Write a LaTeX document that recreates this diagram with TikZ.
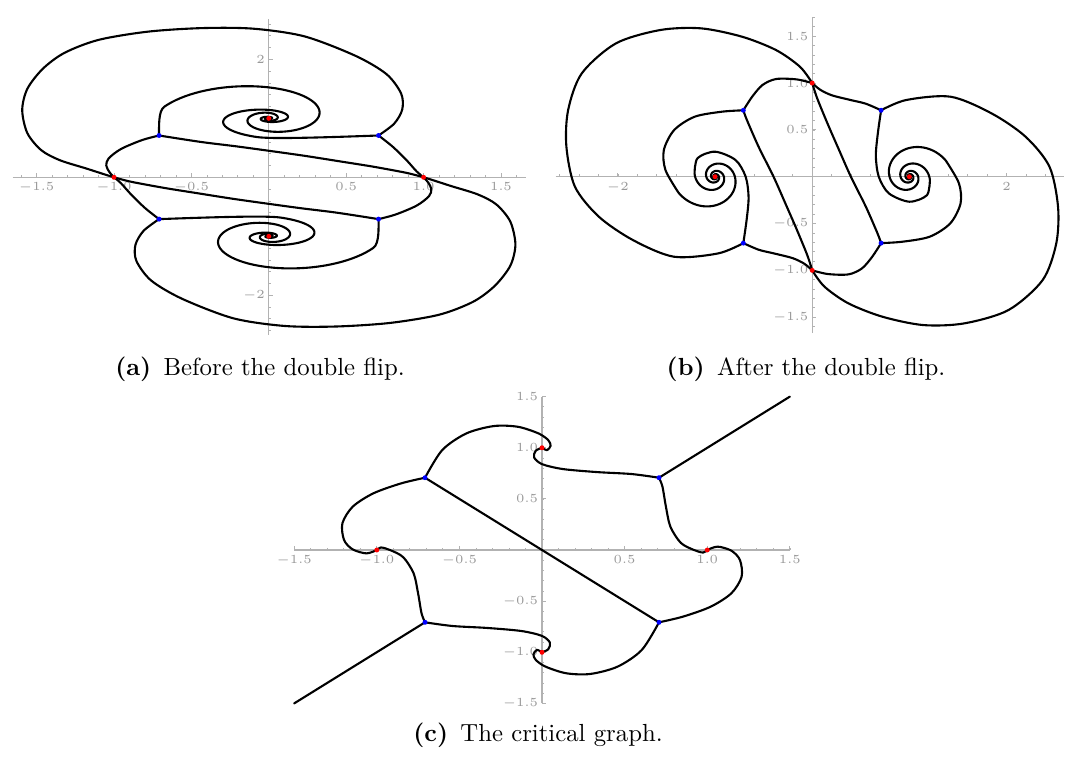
\documentclass[tikz,border=0pt]{standalone}
\usepackage{tikz}
\definecolor{axisgrey}{gray}{0.7}
\definecolor{labelgrey}{gray}{0.6}
\definecolor{polered}{rgb}{1,0,0}
\definecolor{zeroblue}{rgb}{0,0,1}
\tikzset{
  traj/.style={line width=0.85pt, line cap=round, line join=round},
  axisline/.style={draw=axisgrey, line width=0.45pt},
  minortick/.style={draw=axisgrey, line width=0.3pt},
  majortick/.style={draw=axisgrey, line width=0.4pt},
  ticklabel/.style={font=\fontsize{5}{5.5}\selectfont, text=labelgrey, inner sep=0.8pt},
  subcap/.style={anchor=base, font=\normalsize},
}

\begin{document}
\begin{tikzpicture}[x=0.0142cm, y=-0.0142cm]
\useasboundingbox (0,0) rectangle (1065,764);

% (a) before the double flip
\begin{scope}[shift={(268.8,177.3)}, x=2.1989cm, y=0.8378cm]
  \draw[axisline] (-1.655,0) -- (1.66,0);
  \draw[axisline] (0,-2.67) -- (0,2.68);
  \foreach \t in {-16,...,16} \draw[minortick] (\t/10,0) -- ++(0,1pt);
  \foreach \t in {-1.5,-1,-0.5,0.5,1,1.5} \draw[majortick] (\t,0) -- ++(0,1.7pt);
  \foreach \t in {-13,...,13} \draw[minortick] (0,\t/5) -- ++(1pt,0);
  \foreach \t in {-2,-1,1,2} \draw[majortick] (0,\t) -- ++(1.7pt,0);
  \foreach \t/\l in {-1.5/$-$1.5,-1/$-$1.0,-0.5/$-$0.5,0.5/0.5,1/1.0,1.5/1.5}
    \node[ticklabel, below=1.2pt] at (\t,0) {\l};
  \node[ticklabel, left=0.6pt] at (0,2) {2};
  \node[ticklabel, left=0.6pt] at (0,-2) {$-$2};
  \coordinate (a-n) at (0,1);   \coordinate (a-s) at (0,-1);
  \coordinate (a-w) at (-1,0);  \coordinate (a-e) at (1,0);
  \coordinate (a-nw) at (-0.709,0.709);  \coordinate (a-ne) at (0.709,0.709);
  \coordinate (a-sw) at (-0.709,-0.709); \coordinate (a-se) at (0.709,-0.709);
  \foreach \rot/\pn/\pw/\pe/\pnw/\pne in {0/n/w/e/nw/ne,180/s/e/w/se/sw}{
    \begin{scope}[rotate=\rot]
      \draw[traj] plot[smooth] coordinates {(a-\pw) (-1.05,0.04) (-1.18,0.15) (-1.35,0.29) (-1.47,0.46) (-1.56,0.75) (-1.593,1.14) (-1.56,1.5) (-1.46,1.84) (-1.32,2.11) (-1.1,2.33) (-0.78,2.47) (-0.43,2.53) (-0.1,2.52) (0.23,2.39) (0.56,2.06) (0.76,1.75) (0.855,1.42) (0.862,1.15) (0.81,0.91) (a-\pne)};
      \draw[traj] plot[smooth] coordinates {(a-\pnw) (-0.82,0.63) (-0.955,0.48) (-1.035,0.32) (-1.05,0.2) (-1.03,0.09) (a-\pw)};
      \draw[traj] plot[smooth] coordinates {(a-\pnw) (-0.44,0.6) (-0.21,0.525) (0,0.45) (0.23,0.365) (0.46,0.27) (0.675,0.18) (0.89,0.075) (a-\pe)};
      \draw[traj] plot[smooth] coordinates {(a-\pne) (0.80,0.52) (0.89,0.29) (0.955,0.1) (a-\pe)};
      % two arms winding into the pole
      \draw[traj] (a-\pnw) .. controls (-0.709,0.86) and (-0.714,1.125) .. (-0.676,1.195)
        -- plot[domain=165:-900, samples=300] ({0.316*exp(0.004817*\x)*cos(\x)}, {1+0.34*exp(0.004817*\x)*sin(\x)});
      \draw[traj] (a-\pne) .. controls (0.4,0.68) and (0.024,0.646) .. (-0.0725,0.6815)
        -- plot[domain=80:-900, samples=300] ({-0.284*exp(0.004817*\x)*cos(\x)}, {1-0.22*exp(0.004817*\x)*sin(\x)});
    \end{scope}
  }
  \foreach \p in {n,s,w,e} \fill[polered] (a-\p) circle (1pt);
  \foreach \p in {nw,ne,sw,se} \fill[zeroblue] (a-\p) circle (1pt);
\end{scope}

% (b) after the double flip
\begin{scope}[shift={(812.2,176.7)}, x=1.3802cm, y=1.3305cm]
  \draw[axisline] (-2.64,0) -- (2.59,0);
  \draw[axisline] (0,-1.67) -- (0,1.71);
  \foreach \t in {-13,...,12} \draw[minortick] (\t/5,0) -- ++(0,1pt);
  \foreach \t in {-2,-1,1,2} \draw[majortick] (\t,0) -- ++(0,1.7pt);
  \foreach \t in {-16,...,17} \draw[minortick] (0,\t/10) -- ++(1pt,0);
  \foreach \t in {-1.5,-1,-0.5,0.5,1,1.5} \draw[majortick] (0,\t) -- ++(1.7pt,0);
  \node[ticklabel, below=1.2pt] at (-2,0) {$-$2};
  \node[ticklabel, below=1.2pt] at (2,0) {2};
  \foreach \t/\l in {-1.5/$-$1.5,-1/$-$1.0,-0.5/$-$0.5,0.5/0.5,1/1.0,1.5/1.5}
    \node[ticklabel, left=0.6pt] at (0,\t) {\l};
  \coordinate (b-n) at (0,1);   \coordinate (b-s) at (0,-1);
  \coordinate (b-w) at (-1,0);  \coordinate (b-e) at (1,0);
  \coordinate (b-nw) at (-0.709,0.709);  \coordinate (b-ne) at (0.709,0.709);
  \coordinate (b-sw) at (-0.709,-0.709); \coordinate (b-se) at (0.709,-0.709);
  \foreach \rot/\pn/\ps/\pw/\pnw/\psw in {0/n/s/w/nw/sw,180/s/n/e/se/ne}{
    \begin{scope}[rotate=\rot]
      \draw[traj] plot[smooth] coordinates {(b-\pn) (-0.126,1.174) (-0.372,1.352) (-0.723,1.495) (-1.144,1.584) (-1.565,1.566) (-2.021,1.423) (-2.372,1.103) (-2.512,0.712) (-2.53,0.32) (-2.442,-0.107) (-2.196,-0.427) (-1.846,-0.676) (-1.425,-0.854) (-0.968,-0.819) (b-\psw)};
      \draw[traj] plot[smooth] coordinates {(b-\pn) (-0.161,1.039) (-0.372,1.043) (-0.512,0.979) (-0.618,0.854) (b-\pnw)};
      \draw[traj] plot[smooth] coordinates {(b-\pnw) (-0.672,0.605) (-0.552,0.32) (-0.398,0) (-0.27,-0.3) (-0.157,-0.569) (-0.05,-0.84) (b-\ps)};
      \draw[traj] plot[smooth] coordinates {(b-\psw) (-0.55,-0.78) (-0.398,-0.818) (-0.2,-0.87) (-0.08,-0.93) (b-\ps)};
      % two arms winding into the pole
      \draw[traj] plot[smooth] coordinates {(b-\pnw) (-0.93,0.694) (-1.211,0.64) (-1.421,0.498) (-1.527,0.285) (-1.51,0.07) (-1.3777,-0.1681)}
        -- plot[domain=204:1150, samples=300] ({-1+0.767*exp(-0.004538*(\x-67.8))*cos(\x)}, {0.767*exp(-0.004538*(\x-67.8))*sin(\x)});
      \draw[traj] plot[smooth] coordinates {(b-\psw) (-0.675,-0.46) (-0.655,-0.22) (-0.685,0) (-0.789,0.178) (-1,0.267) (-1.18,0.198) (-1.2111,0.035)}
        -- plot[domain=170.6:1100, samples=300] ({-1+0.214*exp(-0.004538*(\x-170.6))*cos(\x)}, {0.214*exp(-0.004538*(\x-170.6))*sin(\x)});
    \end{scope}
  }
  \foreach \p in {n,s,w,e} \fill[polered] (b-\p) circle (1pt);
  \foreach \p in {nw,ne,sw,se} \fill[zeroblue] (b-\p) circle (1pt);
\end{scope}

% (c) the critical graph
\begin{scope}[shift={(542,550)}, x=2.3473cm, y=1.4527cm]
  \draw[axisline] (-1.5,0) -- (1.5,0);
  \draw[axisline] (0,-1.5) -- (0,1.5);
  \foreach \t in {-15,...,15} {
    \draw[minortick] (\t/10,0) -- ++(0,1pt);
    \draw[minortick] (0,\t/10) -- ++(1pt,0);
  }
  \foreach \t in {-1.5,-1,-0.5,0.5,1,1.5} {
    \draw[majortick] (\t,0) -- ++(0,1.7pt);
    \draw[majortick] (0,\t) -- ++(1.7pt,0);
  }
  \foreach \t/\l in {-1.5/$-$1.5,-1/$-$1.0,-0.5/$-$0.5,0.5/0.5,1/1.0,1.5/1.5} {
    \node[ticklabel, below=1.2pt] at (\t,0) {\l};
    \node[ticklabel, left=0.6pt] at (0,\t) {\l};
  }
  \coordinate (c-n) at (0,1);   \coordinate (c-s) at (0,-1);
  \coordinate (c-w) at (-1,0);  \coordinate (c-e) at (1,0);
  \coordinate (c-nw) at (-0.708,0.707);  \coordinate (c-ne) at (0.708,0.707);
  \coordinate (c-sw) at (-0.708,-0.707); \coordinate (c-se) at (0.708,-0.707);
  \coordinate (c-far-ne) at (1.5,1.5);   \coordinate (c-far-sw) at (-1.5,-1.5);
  \draw[traj] (c-nw) -- (c-se);
  \foreach \rot/\pn/\pw/\pe/\pnw/\pne in {0/n/w/e/nw/ne,180/s/e/w/se/sw}{
    \begin{scope}[rotate=\rot]
      \draw[traj] plot[smooth] coordinates {(c-\pnw) (-0.604,0.977) (-0.458,1.14) (-0.292,1.212) (-0.146,1.205) (-0.021,1.14) (0.0375,1.075) (0.052,1.02) (0.031,0.977) (c-\pn)};
      \draw[traj] plot[smooth] coordinates {(c-\pn) (-0.0375,0.971) (-0.048,0.906) (0,0.84) (0.125,0.792) (0.333,0.762) (0.542,0.743) (c-\pne)};
      \draw[traj] plot[smooth] coordinates {(c-\pnw) (-0.854,0.651) (-1.021,0.554) (-1.146,0.423) (-1.208,0.261) (-1.198,0.098) (-1.146,0.0065) (-1.0625,-0.033) (c-\pw)};
      \draw[traj] plot[smooth] coordinates {(c-\pne) (0.729,0.619) (0.75,0.423) (0.777,0.228) (0.84,0.07) (0.92,0.0) (0.975,-0.025) (c-\pe)};
      \draw[traj] (c-\pne) -- (c-far-\pne);
    \end{scope}
  }
  \foreach \p in {n,s,w,e} \fill[polered] (c-\p) circle (1pt);
  \foreach \p in {nw,ne,sw,se} \fill[zeroblue] (c-\p) circle (1pt);
\end{scope}

\node[subcap] (cap-a) at (260,375) {\textbf{(a)}\enspace Before the double flip.};
\node[subcap] (cap-b) at (806,375) {\textbf{(b)}\enspace After the double flip.};
\node[subcap] (cap-c) at (538,741) {\textbf{(c)}\enspace The critical graph.};
\end{tikzpicture}
\end{document}
